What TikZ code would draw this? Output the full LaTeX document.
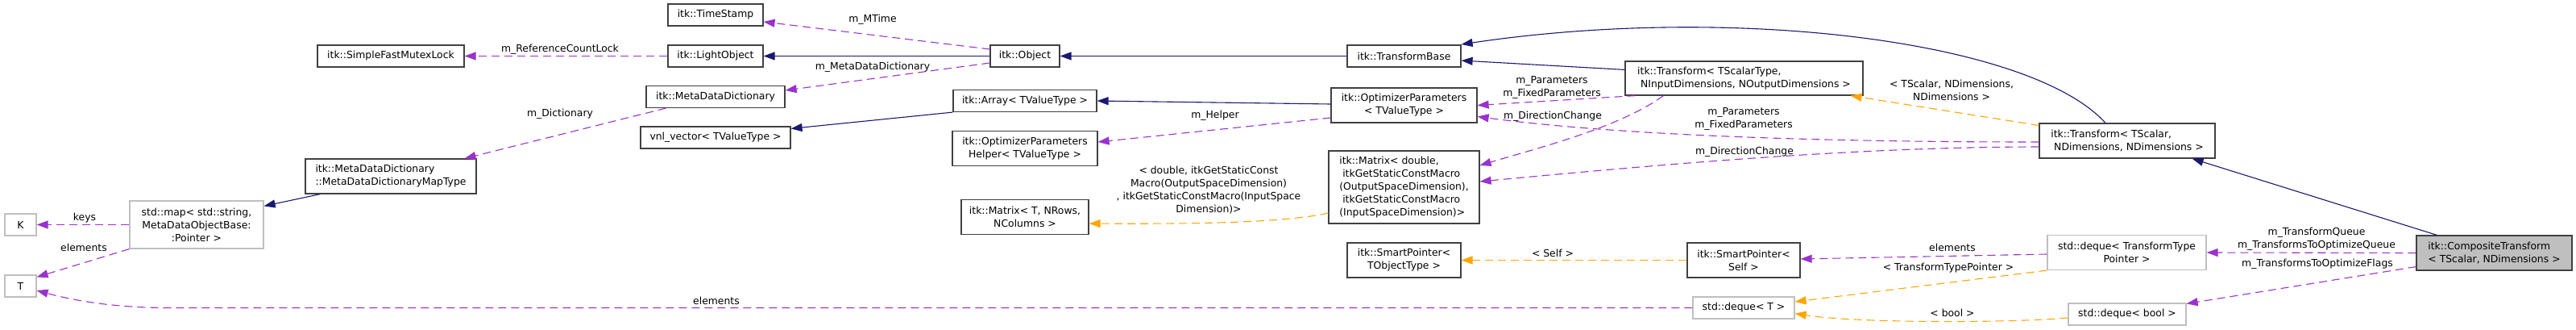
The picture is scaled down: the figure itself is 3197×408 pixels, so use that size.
\documentclass[tikz,border=0pt]{standalone}
\usepackage{fontspec}
\setmainfont{DejaVu Sans}
\usetikzlibrary{arrows.meta,calc}
\definecolor{navy}{HTML}{191970}
\definecolor{orch}{HTML}{9A32CD}
\definecolor{orng}{HTML}{FFA500}
\definecolor{gr75}{HTML}{BFBFBF}
\definecolor{bord}{HTML}{404040}
\tikzset{
  every node/.style={font=\fontsize{12.4}{16}\selectfont, inner sep=0pt},
  cls/.style={draw=bord, line width=1.2pt, fill=white, align=center},
  clsl/.style={cls, align=left},
  ext/.style={draw=gr75, line width=1.2pt, fill=white, align=center},
  cur/.style={cls, fill=gr75, align=left},
  inh/.style={draw=navy, line width=1.1pt, -{Triangle[length=14pt,width=10pt,fill=navy]}},
  usedge/.style={draw=orch, line width=1.1pt, dash pattern=on 10pt off 6pt, -{Triangle[length=14pt,width=10pt,fill=orch]}},
  tpl/.style={draw=orng, line width=1.1pt, dash pattern=on 10pt off 6pt, -{Triangle[length=14pt,width=10pt,fill=orng]}},
  lbl/.style={align=center}
}
\begin{document}
\begin{tikzpicture}[x=1pt,y=-1pt]
\useasboundingbox (0,0) rectangle (3197,408);
% nodes
\node[ext, minimum width=39pt, minimum height=27pt] (K) at (25.5,278.5) {K};
\node[ext, minimum width=39pt, minimum height=27pt] (T) at (25.5,354.5) {T};
\node[ext, minimum width=166pt, minimum height=59pt] (Map) at (244,278.5) {std::map< std::string,\\ MetaDataObjectBase:\\:Pointer >};
\node[clsl, minimum width=212pt, minimum height=43pt] (MapType) at (485,218.5) {itk::MetaDataDictionary\\::MetaDataDictionaryMapType};
\node[cls, minimum width=182pt, minimum height=27pt] (Mutex) at (485,69.5) {itk::SimpleFastMutexLock};
\node[cls, minimum width=118pt, minimum height=27pt] (TimeStamp) at (888,18.5) {itk::TimeStamp};
\node[cls, minimum width=118pt, minimum height=27pt] (LightObject) at (888,69.5) {itk::LightObject};
\node[cls, minimum width=172pt, minimum height=27pt] (MDD) at (888,120) {itk::MetaDataDictionary};
\node[cls, minimum width=186pt, minimum height=27pt] (Vnl) at (888,170.5) {vnl\_vector< TValueType >};
\node[cls, minimum width=86pt, minimum height=27pt] (Object) at (1272,69.5) {itk::Object};
\node[cls, minimum width=178pt, minimum height=27pt] (Array) at (1272,125) {itk::Array< TValueType >};
\node[cls, minimum width=180pt, minimum height=43pt] (Helper) at (1272,184) {itk::OptimizerParameters\\Helper< TValueType >};
\node[cls, minimum width=158pt, minimum height=43pt] (MatrixT) at (1272,269) {itk::Matrix< T, NRows,\\NColumns >};
\node[cls, minimum width=141pt, minimum height=27pt] (TransformBase) at (1742.5,69.5) {itk::TransformBase};
\node[cls, minimum width=181pt, minimum height=43pt] (OptParams) at (1742.5,130.5) {itk::OptimizerParameters\\< TValueType >};
\node[clsl, minimum width=187pt, minimum height=90pt] (MatrixD) at (1742.5,232) {itk::Matrix< double,\\\ itkGetStaticConstMacro\\(OutputSpaceDimension),\\\ itkGetStaticConstMacro\\(InputSpaceDimension)>};
\node[cls, minimum width=141pt, minimum height=43pt] (SPTO) at (1742.5,322.5) {itk::SmartPointer<\\ TObjectType >};
\node[clsl, minimum width=295pt, minimum height=42pt] (TransformTST) at (2164.5,97) {itk::Transform< TScalarType,\\\ NInputDimensions, NOutputDimensions >};
\node[cls, minimum width=140pt, minimum height=43pt] (SPSelf) at (2164,322.5) {itk::SmartPointer<\\ Self >};
\node[ext, minimum width=126pt, minimum height=27pt] (DequeT) at (2164,381.5) {std::deque< T >};
\node[clsl, minimum width=218pt, minimum height=43pt] (TransformTS) at (2640,174.5) {itk::Transform< TScalar,\\\ NDimensions, NDimensions >};
\node[ext, minimum width=197pt, minimum height=43pt] (DequeTTP) at (2639.5,313) {std::deque< TransformType\\Pointer >};
\node[ext, minimum width=146pt, minimum height=27pt] (DequeBool) at (2640,389.5) {std::deque< bool >};
\node[cur, minimum width=193pt, minimum height=43pt] (Composite) at (3095.5,313.5) {itk::CompositeTransform\\< TScalar, NDimensions >};
% edges
\draw[inh] ($(TransformTST.north west)+(0,11)$) -- ($(TransformBase.east)+(0,5.5)$);
\draw[inh] ($(TransformTS.north)+(-27,0)$) .. controls (2520,50) and (2150,5) .. ($(TransformBase.east)+(0,-14.5)$);
\draw[inh] (TransformBase.west) -- (Object.east);
\draw[inh] (Object.west) -- (LightObject.east);
\draw[usedge] ($(Object.west)+(0,-8.5)$) -- ($(TimeStamp.east)+(0,8.5)$);
\draw[usedge] ($(Object.west)+(0,8.5)$) -- ($(MDD.east)+(0,-8)$);
\draw[usedge] (LightObject.west) -- (Mutex.east);
\draw[usedge] ($(MDD.south west)+(25,0)$) -- ($(MapType.north east)+(-15,0)$);
\draw[inh] ($(MapType.south west)+(19,0)$) -- ($(Map.north east)+(0,7)$);
\draw[usedge] (Map.west) -- (K.east);
\draw[usedge] (Map.south west) -- ($(T.north east)+(0,3)$);
\draw[usedge] (DequeT.west) -- (210,381.5) .. controls (140,381.5) and (90,372) .. ($(T.east)+(0,5.5)$);
\draw[inh] (Array.south west) -- ($(Vnl.north east)+(0,3)$);
\draw[inh] ($(OptParams.west)+(0,-1.5)$) -- (Array.east);
\draw[usedge] ($(OptParams.west)+(0,15.5)$) -- ($(Helper.east)+(0,-8)$);
\draw[usedge] ($(TransformTST.south west)+(13,0)$) -- (OptParams.east);
\draw[usedge] ($(TransformTST.south west)+(48,0)$) .. controls (2010,158) and (1910,183) .. ($(MatrixD.east)+(0,-27)$);
\draw[usedge] ($(TransformTS.west)+(0,1.5)$) .. controls (2150,176) and (1950,160) .. ($(OptParams.east)+(0,14)$);
\draw[usedge] ($(TransformTS.west)+(0,7.5)$) .. controls (2300,182) and (2050,205) .. ($(MatrixD.east)+(0,-7)$);
\draw[tpl] ($(TransformTS.north west)+(0,3)$) -- ($(TransformTST.south east)+(-16,0)$);
\draw[tpl] ($(MatrixD.west)+(0,32)$) .. controls (1600,275) and (1500,278) .. ($(MatrixT.east)+(0,8)$);
\draw[inh] ($(Composite.north west)+(26,0)$) -- ($(TransformTS.south east)+(-29,0)$);
\draw[usedge] (Composite.west) -- (DequeTTP.east);
\draw[usedge] ($(Composite.south west)+(0,-5)$) -- ($(DequeBool.north east)+(0,1)$);
\draw[usedge] ($(DequeTTP.west)+(0,2)$) -- ($(SPSelf.east)+(0,-1.5)$);
\draw[tpl] (DequeTTP.south west) -- ($(DequeT.east)+(0,-7.5)$);
\draw[tpl] ($(DequeBool.west)+(0,4.5)$) .. controls (2480,401) and (2300,400) .. ($(DequeT.east)+(0,7)$);
\draw[tpl] (SPSelf.west) -- (SPTO.east);
% labels
\node[lbl] (l1) at (695,61) {m\_ReferenceCountLock};
\node[lbl] (l2) at (695,141) {m\_Dictionary};
\node[lbl] (l3) at (105,270) {keys};
\node[lbl] (l4) at (104,307) {elements};
\node[lbl] (l5) at (1083,24) {m\_MTime};
\node[lbl] (l6) at (1083,83) {m\_MetaDataDictionary};
\node[lbl] (l7) at (1508,143) {m\_Helper};
\node[lbl] (l8) at (1500,236) {< double, itkGetStaticConst\\Macro(OutputSpaceDimension)\\, itkGetStaticConstMacro(InputSpace\\Dimension)>};
\node[lbl] (l9) at (889,373) {elements};
\node[lbl] (l10) at (1926,108) {m\_Parameters\\m\_FixedParameters};
\node[lbl] (l11) at (1927,144) {m\_DirectionChange};
\node[lbl] (l12) at (2164,147) {m\_Parameters\\m\_FixedParameters};
\node[lbl] (l13) at (2165,188) {m\_DirectionChange};
\node[lbl] (l14) at (2422,112) {< TScalar, NDimensions,\\NDimensions >};
\node[lbl] (l15) at (1927,314) {< Self >};
\node[lbl] (l16) at (2423,307) {elements};
\node[lbl] (l17) at (2418,332) {< TransformTypePointer >};
\node[lbl] (l18) at (2423,388) {< bool >};
\node[lbl] (l19) at (2875,296) {m\_TransformQueue\\m\_TransformsToOptimizeQueue};
\node[lbl] (l20) at (2876,327) {m\_TransformsToOptimizeFlags};
\end{tikzpicture}
\end{document}
